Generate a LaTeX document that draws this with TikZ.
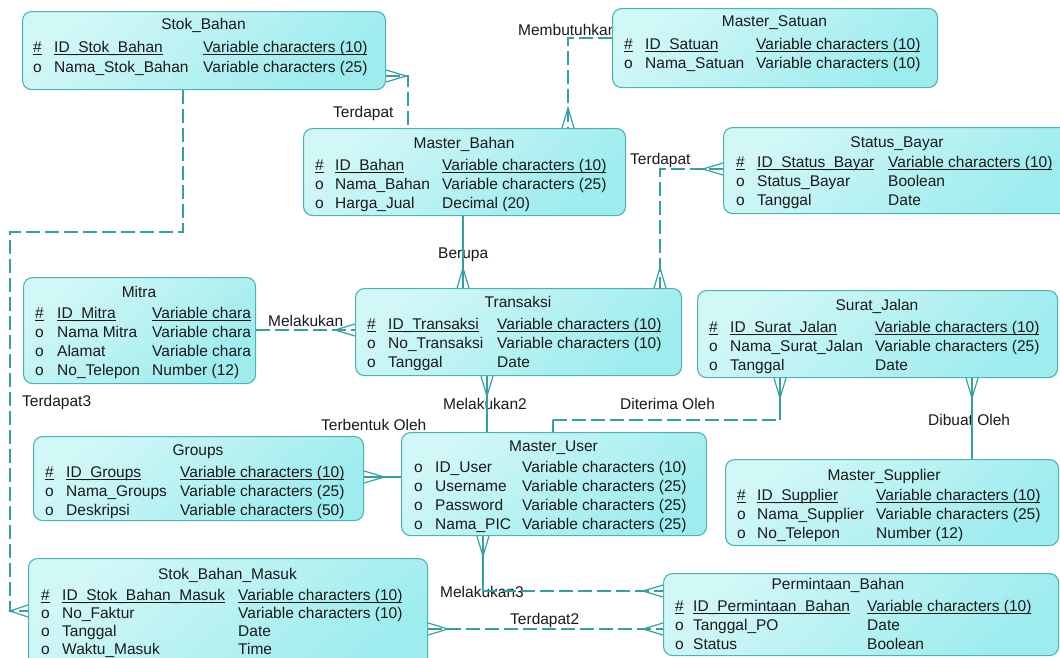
\documentclass[tikz,border=0pt]{standalone}
\usepackage{fontspec}
\setmainfont{Liberation Sans}
\usetikzlibrary{calc}
\pgfdeclarelayer{bg}
\pgfdeclarelayer{paper}
\pgfsetlayers{paper,bg,main}
\definecolor{entborder}{HTML}{4FB3B3}
\definecolor{entlight}{HTML}{D2F7F7}
\definecolor{entdark}{HTML}{9DECEE}
\definecolor{connc}{HTML}{34A0A0}
\definecolor{txtc}{HTML}{1A1A1A}
\newcommand{\ul}[1]{\setbox0\hbox{#1}\rlap{\rule[-2.4pt]{\wd0}{0.9pt}}\box0}
\tikzset{
  ent/.style={draw=entborder, line width=1.1pt, rounded corners=9pt,
    top color=entlight, bottom color=entdark, shading angle=40,
    inner sep=0pt, anchor=north west},
  txt/.style={font=\fontsize{15.5}{18}\selectfont, inner sep=0pt, anchor=base west, text=txtc},
  ttl/.style={font=\fontsize{15.5}{18}\selectfont, inner sep=0pt, anchor=base, text=txtc},
  lbl/.style={font=\fontsize{15.5}{18}\selectfont, inner sep=0pt, anchor=base west, text=txtc},
  conn/.style={draw=connc, line width=1.2pt},
  dsh/.style={dash pattern=on 14pt off 5pt},
}
\newcommand{\ent}[5]{\node[ent, minimum width={(#4-#2)*1pt}, minimum height={(#5-#3)*1pt}] (#1) at (#2,#3) {};}
\newcommand{\attrrow}[8]{%
  \node[txt] (#1m) at (#3,#2) {#6};
  \node[txt] (#1a) at (#4,#2) {#7};
  \node[txt] (#1b) at (#5,#2) {#8};}
\newcommand{\crow}[2]{\draw[conn] ($(#1)!6pt!90:(#2)$) -- (#2) -- ($(#1)!6pt!-90:(#2)$);}
\begin{document}
\begin{tikzpicture}[x=1pt,y=-1pt]
\begin{pgfonlayer}{paper}
\fill[white] (0,0) rectangle (1060,657);
\end{pgfonlayer}
\useasboundingbox (0,0) rectangle (1060,657);

% ---------- entities ----------
\ent{sb}{22}{11}{385}{89}
\node[ttl] (sbT) at (203.5,29) {Stok\_Bahan};
\attrrow{sbA}{52}{33}{54}{203}{\ul{\#}}{\ul{ID\_Stok\_Bahan}}{\ul{Variable characters (10)}}
\attrrow{sbB}{72}{33}{54}{203}{o}{Nama\_Stok\_Bahan}{Variable characters (25)}

\ent{ms}{612}{8}{937}{87}
\node[ttl] (msT) at (774.5,26) {Master\_Satuan};
\attrrow{msA}{49}{624}{645}{756}{\ul{\#}}{\ul{ID\_Satuan}}{\ul{Variable characters (10)}}
\attrrow{msB}{68}{624}{645}{756}{o}{Nama\_Satuan}{Variable characters (10)}

\ent{mb}{303}{128}{625}{215}
\node[ttl] (mbT) at (464,148) {Master\_Bahan};
\attrrow{mbA}{170}{315}{335}{442}{\ul{\#}}{\ul{ID\_Bahan}}{\ul{Variable characters (10)}}
\attrrow{mbB}{189}{315}{335}{442}{o}{Nama\_Bahan}{Variable characters (25)}
\attrrow{mbC}{208}{315}{335}{442}{o}{Harga\_Jual}{Decimal (20)}

\ent{sy}{723}{127}{1071}{213}
\node[ttl] (syT) at (897,147) {Status\_Bayar};
\attrrow{syA}{167}{736}{757}{888}{\ul{\#}}{\ul{ID\_Status\_Bayar}}{\ul{Variable characters (10)}}
\attrrow{syB}{186}{736}{757}{888}{o}{Status\_Bayar}{Boolean}
\attrrow{syC}{205}{736}{757}{888}{o}{Tanggal}{Date}

\ent{mi}{23}{277}{255}{383}
\node[ttl] (miT) at (139,297) {Mitra};
\begin{scope}
\clip (23,277) rectangle (251,383);
\attrrow{miA}{318}{35}{57}{152}{\ul{\#}}{\ul{ID\_Mitra}}{\ul{Variable chara}}
\attrrow{miB}{337}{35}{57}{152}{o}{Nama Mitra}{Variable chara}
\attrrow{miC}{356}{35}{57}{152}{o}{Alamat}{Variable chara}
\attrrow{miD}{375}{35}{57}{152}{o}{No\_Telepon}{Number (12)}
\end{scope}

\ent{tr}{355}{288}{681}{375}
\node[ttl] (trT) at (518,307) {Transaksi};
\attrrow{trA}{329}{367}{388}{497}{\ul{\#}}{\ul{ID\_Transaksi}}{\ul{Variable characters (10)}}
\attrrow{trB}{348}{367}{388}{497}{o}{No\_Transaksi}{Variable characters (10)}
\attrrow{trC}{367}{367}{388}{497}{o}{Tanggal}{Date}

\ent{sj}{697}{290}{1057}{377}
\node[ttl] (sjT) at (877,310) {Surat\_Jalan};
\attrrow{sjA}{332}{709}{730}{875}{\ul{\#}}{\ul{ID\_Surat\_Jalan}}{\ul{Variable characters (10)}}
\attrrow{sjB}{351}{709}{730}{875}{o}{Nama\_Surat\_Jalan}{Variable characters (25)}
\attrrow{sjC}{370}{709}{730}{875}{o}{Tanggal}{Date}

\ent{gr}{33}{436}{363}{520}
\node[ttl] (grT) at (198,455) {Groups};
\attrrow{grA}{477}{45}{66}{180}{\ul{\#}}{\ul{ID\_Groups}}{\ul{Variable characters (10)}}
\attrrow{grB}{496}{45}{66}{180}{o}{Nama\_Groups}{Variable characters (25)}
\attrrow{grC}{515}{45}{66}{180}{o}{Deskripsi}{Variable characters (50)}

\ent{mu}{401}{432}{706}{535}
\node[ttl] (muT) at (553.5,451) {Master\_User};
\attrrow{muA}{472}{414}{435}{522}{o}{ID\_User}{Variable characters (10)}
\attrrow{muB}{491}{414}{435}{522}{o}{Username}{Variable characters (25)}
\attrrow{muC}{510}{414}{435}{522}{o}{Password}{Variable characters (25)}
\attrrow{muD}{529}{414}{435}{522}{o}{Nama\_PIC}{Variable characters (25)}

\ent{su}{725}{459}{1058}{545}
\node[ttl] (suT) at (884,480) {Master\_Supplier};
\attrrow{suA}{500}{737}{757}{876}{\ul{\#}}{\ul{ID\_Supplier}}{\ul{Variable characters (10)}}
\attrrow{suB}{519}{737}{757}{876}{o}{Nama\_Supplier}{Variable characters (25)}
\attrrow{suC}{538}{737}{757}{876}{o}{No\_Telepon}{Number (12)}

\ent{sm}{28}{558}{427}{675}
\node[ttl] (smT) at (227.5,579) {Stok\_Bahan\_Masuk};
\attrrow{smA}{600}{41}{62}{238}{\ul{\#}}{\ul{ID\_Stok\_Bahan\_Masuk}}{\ul{Variable characters (10)}}
\attrrow{smB}{618}{41}{62}{238}{o}{No\_Faktur}{Variable characters (10)}
\attrrow{smC}{636}{41}{62}{238}{o}{Tanggal}{Date}
\attrrow{smD}{654}{41}{62}{238}{o}{Waktu\_Masuk}{Time}

\ent{pb}{663}{573}{1058}{655}
\node[ttl] (pbT) at (838,589) {Permintaan\_Bahan};
\attrrow{pbA}{611}{675}{693}{867}{\ul{\#}}{\ul{ID\_Permintaan\_Bahan}}{\ul{Variable characters (10)}}
\attrrow{pbB}{630}{675}{693}{867}{o}{Tanggal\_PO}{Date}
\attrrow{pbC}{649}{675}{693}{867}{o}{Status}{Boolean}

% ---------- connectors ----------
\begin{pgfonlayer}{bg}
% Terdapat : Stok_Bahan - Master_Bahan
\coordinate (c1) at (408,76);
\coordinate (k1b) at (sb.east |- c1);
\coordinate (k1t) at ($(k1b)+(20,0)$);
\draw[conn,dsh] (k1b) -- (c1) -- (mb.north -| c1);
\crow{k1b}{k1t}
\node[lbl] (l1) at (333,117) {Terdapat};

% Terdapat3 : Stok_Bahan - Stok_Bahan_Masuk
\coordinate (c2a) at (183,232);
\coordinate (c2b) at (10,232);
\coordinate (c2c) at (10,611);
\coordinate (k2b) at (sm.west |- c2c);
\coordinate (k2t) at ($(k2b)+(-18,0)$);
\draw[conn,dsh] (sb.south -| c2a) -- (c2a) -- (c2b) -- (c2c) -- (k2b);
\crow{k2b}{k2t}
\node[lbl] (l2) at (22,406) {Terdapat3};

% Membutuhkan : Master_Satuan - Master_Bahan
\coordinate (c3) at (568,38);
\coordinate (k3b) at (mb.north -| c3);
\coordinate (k3t) at ($(k3b)+(0,-20)$);
\node[lbl] (l3) at (518,35) {Membutuhkan};
\draw[conn,dsh] (ms.west |- c3) -- (c3) -- (k3b);
\crow{k3b}{k3t}

% Terdapat : Status_Bayar - Transaksi
\coordinate (c4) at (660,169);
\coordinate (k4b) at (sy.west |- c4);
\coordinate (k4t) at ($(k4b)+(-20,0)$);
\coordinate (k5b) at (tr.north -| c4);
\coordinate (k5t) at ($(k5b)+(0,-20)$);
\draw[conn,dsh] (k4b) -- (c4) -- (k5b);
\crow{k4b}{k4t}
\crow{k5b}{k5t}
\node[lbl] (l4) at (630,164) {Terdapat};

% Berupa : Master_Bahan - Transaksi
\coordinate (c5) at (463,250);
\coordinate (k6b) at (tr.north -| c5);
\coordinate (k6t) at ($(k6b)+(0,-20)$);
\node[lbl] (l5) at (438,258) {Berupa};
\draw[conn] (mb.south -| c5) -- (k6b);
\crow{k6b}{k6t}

% Melakukan : Mitra - Transaksi
\coordinate (c6) at (300,330);
\coordinate (k7b) at (tr.west |- c6);
\coordinate (k7t) at ($(k7b)+(-20,0)$);
\draw[conn,dsh] (mi.east |- c6) -- (k7b);
\crow{k7b}{k7t}
\node[lbl] (l6) at (268,326) {Melakukan};

% Melakukan2 : Transaksi - Master_User
\coordinate (c7) at (487,400);
\coordinate (k8b) at (tr.south -| c7);
\coordinate (k8t) at ($(k8b)+(0,20)$);
\node[lbl] (l7) at (443,409) {Melakukan2};
\draw[conn] (k8b) -- (mu.north -| c7);
\crow{k8b}{k8t}

% Diterima Oleh : Surat_Jalan - Master_User
\coordinate (c8a) at (553,420);
\coordinate (c8b) at (780,420);
\coordinate (k9b) at (sj.south -| c8b);
\coordinate (k9t) at ($(k9b)+(0,20)$);
\draw[conn] (mu.north -| c8a) -- (c8a);
\draw[conn,dsh] (c8a) -- (c8b);
\draw[conn] (c8b) -- (k9b);
\crow{k9b}{k9t}
\node[lbl] (l8) at (620,409) {Diterima Oleh};

% Dibuat Oleh : Surat_Jalan - Master_Supplier
\coordinate (c9) at (972,420);
\coordinate (k10b) at (sj.south -| c9);
\coordinate (k10t) at ($(k10b)+(0,20)$);
\node[lbl] (l9) at (928,425) {Dibuat Oleh};
\draw[conn] (k10b) -- (su.north -| c9);
\crow{k10b}{k10t}

% Terbentuk Oleh : Groups - Master_User
\coordinate (c10) at (380,477);
\coordinate (k11b) at (gr.east |- c10);
\coordinate (k11t) at ($(k11b)+(20,0)$);
\draw[conn] (k11b) -- (mu.west |- c10);
\crow{k11b}{k11t}
\node[lbl] (l10) at (321,430) {Terbentuk Oleh};

% Melakukan3 : Master_User - Permintaan_Bahan
\coordinate (c11) at (483,591);
\coordinate (k12b) at (mu.south -| c11);
\coordinate (k12t) at ($(k12b)+(0,20)$);
\coordinate (k13b) at (pb.west |- c11);
\coordinate (k13t) at ($(k13b)+(-20,0)$);
\node[lbl] (l11) at (440,597) {Melakukan3};
\draw[conn] (k12b) -- (c11);
\draw[conn,dsh] (c11) -- (k13b);
\crow{k12b}{k12t}
\crow{k13b}{k13t}

% Terdapat2 : Stok_Bahan_Masuk - Permintaan_Bahan
\coordinate (c12) at (500,629);
\coordinate (k14b) at (sm.east |- c12);
\coordinate (k14t) at ($(k14b)+(20,0)$);
\coordinate (k15b) at (pb.west |- c12);
\coordinate (k15t) at ($(k15b)+(-20,0)$);
\draw[conn,dsh] (k14b) -- (k15b);
\crow{k14b}{k14t}
\crow{k15b}{k15t}
\node[lbl] (l12) at (510,624) {Terdapat2};
\end{pgfonlayer}
\end{tikzpicture}
\end{document}
